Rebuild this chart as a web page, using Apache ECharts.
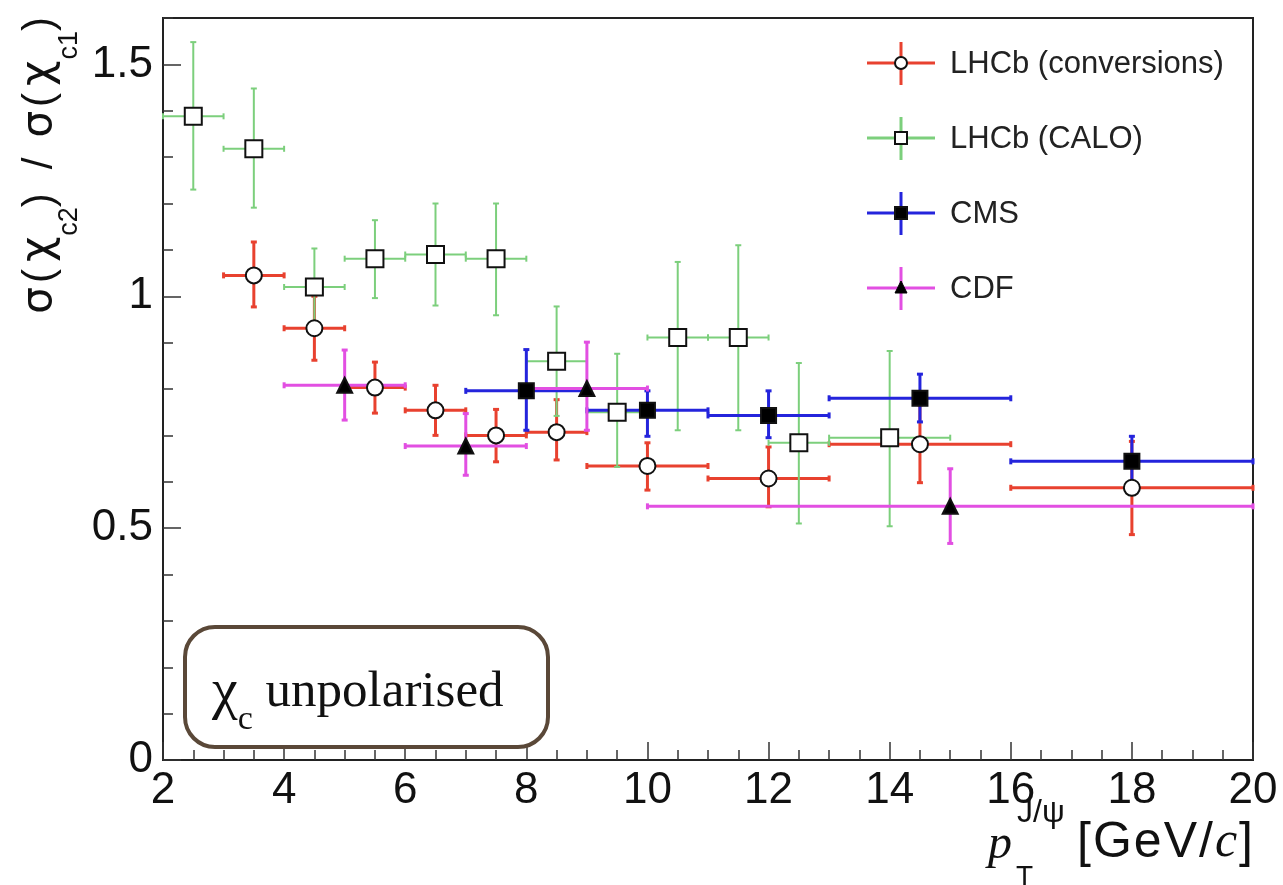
<!DOCTYPE html>
<html>
<head>
<meta charset="utf-8">
<script src="https://cdn.jsdelivr.net/npm/echarts@6/dist/echarts.min.js"></script>
<style>
  html, body { margin: 0; padding: 0; background: #ffffff; }
  #chart { width: 1283px; height: 885px; }
</style>
</head>
<body>
<div id="chart"></div>
<script>
// ---- LHCb (photon conversions) ----
const convX      = [3.5, 4.5, 5.5, 6.5, 7.5, 8.5, 10, 12, 14.5, 18];
const convBinLo  = [3, 4, 5, 6, 7, 8, 9, 11, 13, 16];
const convBinHi  = [4, 5, 6, 7, 8, 9, 11, 13, 16, 20];
const convY      = [1.045, 0.931, 0.803, 0.754, 0.700, 0.707, 0.634, 0.607, 0.681, 0.587];
const convErrLo  = [0.068, 0.069, 0.055, 0.054, 0.057, 0.060, 0.052, 0.061, 0.083, 0.101];
const convErrHi  = [0.072, 0.069, 0.055, 0.054, 0.056, 0.070, 0.050, 0.068, 0.085, 0.100];

// ---- LHCb (calorimeter photons) ----
const caloX      = [2.5, 3.5, 4.5, 5.5, 6.5, 7.5, 8.5, 9.5, 10.5, 11.5, 12.5, 14];
const caloBinLo  = [2, 3, 4, 5, 6, 7, 8, 9, 10, 11, 12, 13];
const caloBinHi  = [3, 4, 5, 6, 7, 8, 9, 10, 11, 12, 13, 15];
const caloY      = [1.388, 1.318, 1.020, 1.081, 1.090, 1.081, 0.860, 0.750, 0.911, 0.911, 0.684, 0.695];
const caloErrLo  = [0.158, 0.127, 0.083, 0.085, 0.110, 0.122, 0.118, 0.118, 0.200, 0.200, 0.174, 0.191];
const caloErrHi  = [0.160, 0.130, 0.083, 0.083, 0.110, 0.119, 0.118, 0.126, 0.163, 0.199, 0.172, 0.187];

// ---- CMS ----
const cmsX       = [8, 10, 12, 14.5, 18];
const cmsBinLo   = [7, 9, 11, 13, 16];
const cmsBinHi   = [9, 11, 13, 16, 20];
const cmsY       = [0.796, 0.754, 0.743, 0.780, 0.644];
const cmsErrLo   = [0.085, 0.056, 0.048, 0.051, 0.046];
const cmsErrHi   = [0.089, 0.042, 0.053, 0.052, 0.054];

// ---- CDF ----
const cdfX       = [5, 7, 9, 15];
const cdfBinLo   = [4, 6, 8, 10];
const cdfBinHi   = [6, 8, 10, 20];
const cdfY       = [0.808, 0.677, 0.801, 0.547];
const cdfErrLo   = [0.075, 0.063, 0.090, 0.080];
const cdfErrHi   = [0.076, 0.070, 0.100, 0.081];

// ---- axis ticks ----
const xTickValues = [2, 4, 6, 8, 10, 12, 14, 16, 18, 20];
const yTickValues = [0, 0.5, 1, 1.5];

const RED = '#e8412f';
const GREEN = '#7ccf7c';
const BLUE = '#2424dc';
const MAGENTA = '#e24fe2';
const SANS = 'Liberation Sans, Arial, Helvetica, sans-serif';
const GREEK = 'DejaVu Sans, Liberation Sans, sans-serif';
const SERIF = 'Liberation Serif, Times New Roman, serif';

// Asymmetric error bars (x bin width and y errors) with small end caps.
function errorBars(name, color, width, xs, lo, hi, ys, eLo, eHi) {
  const data = xs.map((x, i) => [x, ys[i], lo[i], hi[i], ys[i] - eLo[i], ys[i] + eHi[i]]);
  return {
    type: 'custom',
    name: name,
    data: data,
    encode: { x: [0, 2, 3], y: [1, 4, 5] },
    silent: true,
    renderItem: function (params, api) {
      const l = api.coord([api.value(2), api.value(1)]);
      const r = api.coord([api.value(3), api.value(1)]);
      const b = api.coord([api.value(0), api.value(4)]);
      const t = api.coord([api.value(0), api.value(5)]);
      const cap = 3;
      const style = { stroke: color, lineWidth: width };
      const seg = (x1, y1, x2, y2) => ({ type: 'line', shape: { x1, y1, x2, y2 }, style });
      return {
        type: 'group',
        children: [
          seg(l[0], l[1], r[0], r[1]),
          seg(b[0], b[1], t[0], t[1]),
          seg(l[0], l[1] - cap, l[0], l[1] + cap),
          seg(r[0], r[1] - cap, r[0], r[1] + cap),
          seg(b[0] - cap, b[1], b[0] + cap, b[1]),
          seg(t[0] - cap, t[1], t[0] + cap, t[1])
        ]
      };
    }
  };
}

function markers(name, xs, ys, symbol, size, fill) {
  return {
    type: 'scatter',
    name: name,
    data: xs.map((x, i) => [x, ys[i]]),
    symbol: symbol,
    symbolSize: size,
    silent: true,
    itemStyle: { color: fill, borderColor: '#111', borderWidth: 2, opacity: 1 }
  };
}

const series = [
  errorBars('LHCb (conversions)', RED, 3, convX, convBinLo, convBinHi, convY, convErrLo, convErrHi),
  markers('LHCb (conversions)', convX, convY, 'circle', 16, '#ffffff'),
  errorBars('LHCb (CALO)', GREEN, 2, caloX, caloBinLo, caloBinHi, caloY, caloErrLo, caloErrHi),
  markers('LHCb (CALO)', caloX, caloY, 'rect', 17, '#ffffff'),
  errorBars('CMS', BLUE, 3, cmsX, cmsBinLo, cmsBinHi, cmsY, cmsErrLo, cmsErrHi),
  markers('CMS', cmsX, cmsY, 'rect', 15, '#000000'),
  errorBars('CDF', MAGENTA, 3, cdfX, cdfBinLo, cdfBinHi, cdfY, cdfErrLo, cdfErrHi),
  markers('CDF', cdfX, cdfY, 'triangle', 15, '#000000')
];

// Legend entries drawn as cross + marker, like the plotting style of the data.
const legendRows = [
  { label: 'LHCb (conversions)', color: RED, shape: 'circle', fill: '#ffffff' },
  { label: 'LHCb (CALO)', color: GREEN, shape: 'rect', fill: '#ffffff' },
  { label: 'CMS', color: BLUE, shape: 'rect', fill: '#000000' },
  { label: 'CDF', color: MAGENTA, shape: 'triangle', fill: '#000000' }
];

function legendGraphics() {
  const out = [];
  const cx = 901, top = 63, step = 75;
  legendRows.forEach((row, i) => {
    const cy = top + i * step;
    const ls = { stroke: row.color, lineWidth: 3 };
    out.push({ type: 'line', shape: { x1: 867, y1: cy, x2: 935, y2: cy }, style: ls, z: 10 });
    out.push({ type: 'line', shape: { x1: cx, y1: cy - 21, x2: cx, y2: cy + 22 }, style: ls, z: 10 });
    const ms = { fill: row.fill, stroke: '#111', lineWidth: 2 };
    if (row.shape === 'circle') {
      out.push({ type: 'circle', shape: { cx: cx, cy: cy, r: 6 }, style: ms, z: 11 });
    } else if (row.shape === 'rect') {
      out.push({ type: 'rect', shape: { x: cx - 6, y: cy - 6, width: 12, height: 12 }, style: ms, z: 11 });
    } else {
      out.push({ type: 'polygon', shape: { points: [[cx, cy - 7], [cx + 6, cy + 5], [cx - 6, cy + 5]] },
                 style: { fill: '#000', stroke: '#000', lineWidth: 1 }, z: 11 });
    }
    out.push({ type: 'text', x: 950, y: cy + 1, z: 11,
               style: { text: row.label, font: '31px ' + SANS, fill: '#222', align: 'left', verticalAlign: 'middle' } });
  });
  return out;
}

const chart = echarts.init(document.getElementById('chart'), null, { renderer: 'canvas' });

const option = {
  animation: false,
  backgroundColor: '#ffffff',
  grid: {
    left: 163, right: 30, top: 18, bottom: 125,
    show: true, borderColor: '#222', borderWidth: 2, backgroundColor: 'transparent'
  },
  xAxis: {
    type: 'value',
    min: xTickValues[0],
    max: xTickValues[xTickValues.length - 1],
    interval: 2,
    axisLine: { show: true, onZero: false, lineStyle: { color: '#222', width: 2 } },
    axisTick: { show: true, inside: true, length: 18, lineStyle: { color: '#333', width: 1.5 } },
    minorTick: { show: true, splitNumber: 4, length: 10, lineStyle: { color: '#333', width: 1.5 } },
    splitLine: { show: false },
    axisLabel: { show: true, margin: 9, fontSize: 44, fontFamily: SANS, color: '#111' }
  },
  yAxis: [
    {
      type: 'value',
      min: 0, max: 1.6, interval: 0.5,
      position: 'left',
      axisLine: { show: true, onZero: false, lineStyle: { color: '#222', width: 2 } },
      axisTick: { show: true, inside: true, length: 18, lineStyle: { color: '#333', width: 1.5 },
                  customValues: yTickValues },
      splitLine: { show: false },
      axisLabel: { show: true, margin: 10, fontSize: 44, fontFamily: SANS, color: '#111',
                   customValues: yTickValues, formatter: v => String(v) }
    },
    {
      type: 'value',
      min: 0, max: 1.6, interval: 0.1,
      position: 'left',
      axisLine: { show: false },
      axisTick: { show: true, inside: true, length: 10, lineStyle: { color: '#333', width: 1.5 } },
      splitLine: { show: false },
      axisLabel: { show: false }
    }
  ],
  series: series,
  graphic: [
    // y-axis title: sigma(chi_c2) / sigma(chi_c1)
    {
      type: 'text', x: 40, y: 17, rotation: Math.PI / 2, z: 20,
      style: {
        text: '{g|σ}{t|(}{x|χ}{s|c2}{t|)}{d|/}{g|σ}{t|(}{x|χ}{s|c1}{t|)}',
        align: 'right', verticalAlign: 'middle', fill: '#111',
        rich: {
          t: { fontSize: 42, fontFamily: SANS, lineHeight: 86, verticalAlign: 'middle', fill: '#111' },
          d: { fontSize: 42, fontFamily: SANS, lineHeight: 86, verticalAlign: 'middle', fill: '#111', padding: [0, 16, 0, 24] },
          g: { fontSize: 42, fontFamily: GREEK, lineHeight: 86, verticalAlign: 'middle', fill: '#111', padding: [0, 4, 0, 4] },
          x: { fontSize: 44, fontFamily: GREEK, lineHeight: 86, verticalAlign: 'middle', fill: '#111', padding: [0, 1, 0, 7] },
          s: { fontSize: 27, fontFamily: SANS, lineHeight: 24, verticalAlign: 'bottom', fill: '#111' }
        }
      }
    },
    // x-axis title: p_T^{J/psi} [GeV/c]
    { type: 'text', x: 1012, y: 845, z: 20,
      style: { text: 'p', font: 'italic 48px ' + SERIF, fill: '#111', align: 'right', verticalAlign: 'middle' } },
    { type: 'text', x: 1017, y: 813, z: 20,
      style: { text: 'J/ψ', font: '32px ' + SANS, fill: '#111', align: 'left', verticalAlign: 'middle' } },
    { type: 'text', x: 1016, y: 877, z: 20,
      style: { text: 'T', font: '28px ' + SANS, fill: '#111', align: 'left', verticalAlign: 'middle' } },
    { type: 'text', x: 1254, y: 843, z: 20,
      style: {
        text: '{a|[}{a|G}{a|e}{a|V}{a|/}{c|c}{a|]}', align: 'right', verticalAlign: 'middle', fill: '#111',
        rich: {
          a: { fontSize: 50, fontFamily: SANS, fill: '#111', padding: [0, 1, 0, 1] },
          c: { fontSize: 50, fontFamily: SERIF, fontStyle: 'italic', fill: '#111', padding: [0, 1, 0, 1] }
        }
      }
    },
    // annotation box
    { type: 'rect', z: 5,
      shape: { x: 185, y: 627, width: 363, height: 120, r: 30 },
      style: { fill: '#ffffff', stroke: '#5a4838', lineWidth: 4 } },
    { type: 'text', x: 212, y: 693, z: 6,
      style: {
        text: '{x|χ}{s|c}{m| unpolarised}', align: 'left', verticalAlign: 'middle', fill: '#111',
        rich: {
          m: { fontSize: 51, fontFamily: SERIF, lineHeight: 88, verticalAlign: 'middle', fill: '#111' },
          x: { fontSize: 58, fontFamily: SERIF, lineHeight: 88, verticalAlign: 'middle', fill: '#111' },
          s: { fontSize: 34, fontFamily: SERIF, lineHeight: 20, verticalAlign: 'bottom', fill: '#111' }
        }
      }
    }
  ].concat(legendGraphics())
};

chart.setOption(option);
</script>
</body>
</html>
